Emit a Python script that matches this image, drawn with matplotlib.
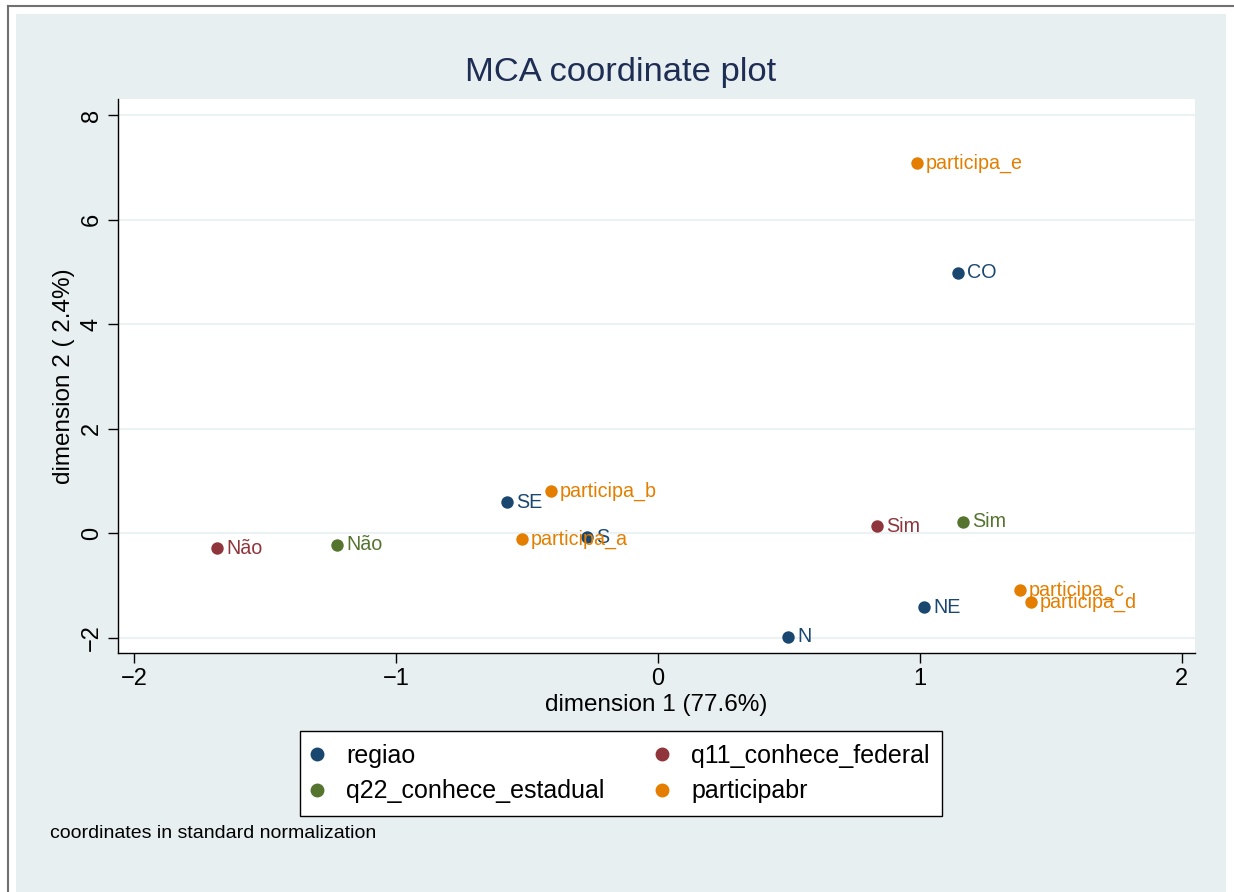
import matplotlib
matplotlib.use("Agg")
import matplotlib.pyplot as plt
from matplotlib.patches import Rectangle
from matplotlib.lines import Line2D

plt.rcParams["font.family"] = ["Liberation Sans", "DejaVu Sans"]

# MCA coordinates (dimension 1, dimension 2) per variable
regiao_lab = ["CO", "SE", "S", "NE", "N"]
regiao_x = [1.145, -0.576, -0.271, 1.015, 0.496]
regiao_y = [4.98, 0.60, -0.07, -1.41, -1.98]

q11_lab = ["Não", "Sim"]
q11_x = [-1.683, 0.836]
q11_y = [-0.28, 0.14]

q22_lab = ["Não", "Sim"]
q22_x = [-1.225, 1.164]
q22_y = [-0.22, 0.22]

part_lab = ["participa_a", "participa_b", "participa_c", "participa_d", "participa_e"]
part_x = [-0.519, -0.408, 1.382, 1.424, 0.989]
part_y = [-0.107, 0.81, -1.08, -1.31, 7.08]

xticks = [-2, -1, 0, 1, 2]
yticks = [-2, 0, 2, 4, 6, 8]

groups = [
    ("regiao", regiao_lab, regiao_x, regiao_y, "#1a476f"),
    ("q11_conhece_federal", q11_lab, q11_x, q11_y, "#90353b"),
    ("q22_conhece_estadual", q22_lab, q22_x, q22_y, "#55752f"),
    ("participabr", part_lab, part_x, part_y, "#e37e00"),
]

W, H = 1234, 892
fig = plt.figure(figsize=(W / 100, H / 100), dpi=100)
fig.patch.set_facecolor("white")

# outer frame and light panel
fig.patches.append(Rectangle((16 / W, 0), (1226 - 16) / W, (H - 14) / H,
                             transform=fig.transFigure, facecolor="#e8eff1",
                             edgecolor="none", zorder=-10))
fig.add_artist(Line2D([8 / W, 8 / W], [0, 1 - 6 / H], transform=fig.transFigure,
                      color="#707070", lw=1.5, zorder=-5))
fig.add_artist(Line2D([8 / W, 1], [1 - 6 / H, 1 - 6 / H], transform=fig.transFigure,
                      color="#707070", lw=1.5, zorder=-5))

ax = fig.add_axes([118 / W, 1 - 653 / H, (1195 - 118) / W, (653 - 99) / H])
ax.set_facecolor("white")
ax.set_xlim(-2.061, 2.05)
ax.set_ylim(-2.287, 8.306)

for key in ["top", "right"]:
    ax.spines[key].set_visible(False)
for key in ["left", "bottom"]:
    ax.spines[key].set_linewidth(1.0)
ax.set_xticks(xticks)
ax.set_yticks(yticks)
ax.set_xticklabels([str(v).replace("-", "\u2212") for v in xticks])
ax.set_yticklabels([str(v).replace("-", "\u2212") for v in yticks],
                   rotation=90, va="center")
ax.tick_params(direction="out", length=7, width=1, labelsize=17, pad=4)
ax.grid(axis="y", color="#eaf2f3", lw=1.5)
ax.set_axisbelow(True)

handles = {}
for name, labs, xs, ys, col in groups:
    ax.scatter(xs, ys, s=80, color=col, zorder=3, linewidths=0)
    for lab, x, y in zip(labs, xs, ys):
        ax.annotate(lab, (x, y), xytext=(6.5, 0), textcoords="offset points",
                    va="center", ha="left", color=col, fontsize=14.2, zorder=4)
    handles[name] = Line2D([], [], marker="o", ls="none", color=col,
                           markersize=9, label=name)

ax.set_xlabel("dimension 1 (77.6%)", fontsize=17.5, labelpad=3)
ax.set_ylabel("dimension 2 ( 2.4%)", fontsize=17.5, labelpad=4)

fig.text(621 / W, 1 - 73 / H, "MCA coordinate plot", ha="center", va="center",
         fontsize=24.8, color="#1e2d53")

# matplotlib fills legend columns first; order so rows read as in the reference
order = ["regiao", "q22_conhece_estadual", "q11_conhece_federal", "participabr"]
leg = fig.legend(handles=[handles[k] for k in order], loc="center", ncol=2,
                 bbox_to_anchor=(621 / W, 1 - 773.5 / H),
                 fontsize=18, frameon=True, fancybox=False,
                 edgecolor="black", framealpha=1, handlelength=0.4,
                 handletextpad=0.96, columnspacing=2.12, borderpad=0.5,
                 labelspacing=0.47)
leg.get_frame().set_linewidth(1.0)

fig.text(50 / W, 1 - 833 / H, "coordinates in standard normalization",
         ha="left", va="center", fontsize=14)

fig.savefig("out.png", dpi=100)
